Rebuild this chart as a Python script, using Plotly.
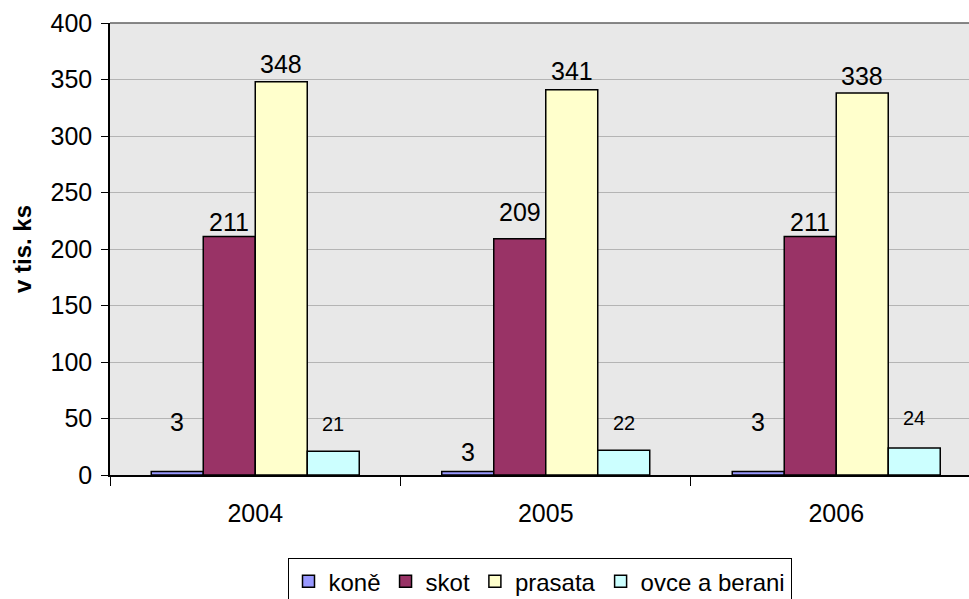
import plotly.graph_objects as go

years = ["2004", "2005", "2006"]
kone = [3, 3, 3]
skot = [211, 209, 211]
prasata = [348, 341, 338]
ovce = [21, 22, 24]

series = [
    ("koně", kone, "#9999FF"),
    ("skot", skot, "#993366"),
    ("prasata", prasata, "#FFFFCC"),
    ("ovce a berani", ovce, "#CCFFFF"),
]

# pixel lift of each data label above its bar top (labels were hand-placed)
label_shift = [[50, 20, 50], [15, 27, 15], [18, 19, 17], [27, 27, 30]]
label_size = [25, 25, 25, 20]

FONT = "Liberation Sans, Arial, sans-serif"
bargap = 0.284
bar_w = (1 - bargap) / 4

fig = go.Figure()
annotations = []
for i, (name, vals, col) in enumerate(series):
    fig.add_trace(go.Bar(
        x=years, y=vals, name=name,
        marker=dict(color=col, line=dict(color="black", width=1.5)),
    ))
    off = (i - 1.5) * bar_w
    for j, v in enumerate(vals):
        annotations.append(dict(
            x=j + off, y=v, xref="x", yref="y", text=str(v), showarrow=False,
            yanchor="middle", yshift=label_shift[i][j],
            font=dict(family=FONT, size=label_size[i], color="black"),
        ))

fig.update_layout(
    width=969, height=599,
    margin=dict(l=110, r=0, t=23, b=124, autoexpand=False),
    paper_bgcolor="white", plot_bgcolor="#E8E8E8",
    barmode="group", bargap=bargap, bargroupgap=0,
    font=dict(family=FONT, size=25, color="black"),
    annotations=annotations,
    showlegend=True,
    legend=dict(
        orientation="h", x=0.5, xanchor="center", y=-0.184, yanchor="top",
        bordercolor="black", borderwidth=1, bgcolor="white",
        font=dict(family=FONT, size=24), itemwidth=30,
        tracegroupgap=0,
    ),
    shapes=[dict(type="line", xref="paper", yref="paper", x0=0, x1=1, y0=1, y1=1,
                 line=dict(color="#606060", width=1.5))],
)
fig.update_xaxes(
    type="category", range=[-0.5, 2.457], automargin=False,
    showline=True, linecolor="black", linewidth=1.5,
    ticks="outside", tickson="boundaries", ticklen=9, tickcolor="black",
    showgrid=False, tickfont=dict(size=25), ticklabelstandoff=15,
)
fig.update_yaxes(
    range=[0, 400], dtick=50, automargin=False,
    showline=True, linecolor="black", linewidth=1.5,
    ticks="outside", ticklen=7, tickcolor="black",
    gridcolor="#B4B4B4", gridwidth=1.2, zeroline=False,
    tickfont=dict(size=25), ticklabelstandoff=4,
    title=dict(text="<b>v tis. ks</b>", font=dict(family=FONT, size=24), standoff=12),
)

fig.write_html("out.html", config={"displayModeBar": False},
               post_script="document.body.style.margin='0px';")
